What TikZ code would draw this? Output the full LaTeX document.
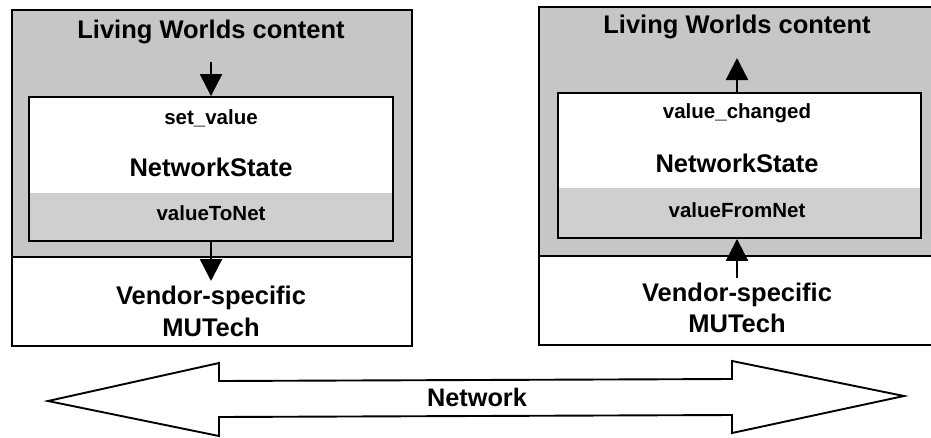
\documentclass[tikz,border=0pt]{standalone}
\usepackage{fontspec}
\setmainfont{Liberation Sans}
\usetikzlibrary{arrows.meta}
\definecolor{halftone}{HTML}{C6C6C6}
\definecolor{halftonelight}{HTML}{CFCFCF}
\tikzset{
  frame/.style={draw=black, line width=1.9pt},
  big/.style={font=\bfseries\fontsize{25.5}{27}\selectfont, inner sep=0pt},
  small/.style={font=\bfseries\fontsize{20.5}{22}\selectfont, inner sep=0pt},
  flow/.style={line width=2.4pt, -{Triangle[width=22pt,length=22pt]}},
  innerbox/.style={frame, rectangle, inner sep=0pt},
}
\begin{document}
\begin{tikzpicture}[x=1pt,y=-1pt]
\useasboundingbox (0,0) rectangle (931,437);
% ---------- left panel ----------
\fill[halftone] (12,10) rectangle (412,257);
\fill[white] (12,257) rectangle (412,346);
\draw[frame] (12,10) rectangle (412,346);
\draw[frame] (12,257) -- (412,257);
\fill[white] (29,97) rectangle (393,193);
\fill[halftonelight] (29,193) rectangle (393,241);
\node[innerbox, minimum width=364pt, minimum height=144pt] (linner) at (211,169) {};
\node[big] (ltitle) at (211,32) {Living Worlds content};
\node[small] (lset) at (211,118) {set\_value};
\node[big] (lns) at (211,167) {NetworkState};
\node[small] (lto) at (211,213) {valueToNet};
\node[big] (lvendor) at (211,298) {Vendor-specific};
\node[big] (lmu) at (211,327) {MUTech};
\coordinate (la) at (211,62);
\coordinate (lb) at (211,281);
\draw[flow] (la) -- (linner.north);
\draw[flow] (linner.south) -- (lb);
% ---------- right panel ----------
\fill[halftone] (539,7) rectangle (936,256);
\fill[white] (539,256) rectangle (936,345);
\draw[frame] (936,7) -- (539,7) -- (539,345) -- (936,345);
\draw[frame] (539,256) -- (936,256);
\fill[white] (558,93) rectangle (921,188);
\fill[halftonelight] (558,188) rectangle (921,238);
\node[innerbox, minimum width=363pt, minimum height=145pt] (rinner) at (739.5,165.5) {};
\node[big] (rtitle) at (737,27) {Living Worlds content};
\node[small] (rchg) at (737,113) {value\_changed};
\node[big] (rns) at (737,163) {NetworkState};
\node[small] (rfrom) at (737,210) {valueFromNet};
\node[big] (rvendor) at (737,295) {Vendor-specific};
\node[big] (rmu) at (737,323) {MUTech};
\coordinate (ra) at (737,58);
\coordinate (rb) at (737,278);
\draw[flow] (rinner.north -| ra) -- (ra);
\draw[flow] (rb) -- (rinner.south -| rb);
% ---------- network arrow ----------
\draw[line width=1.9pt, line join=miter, fill=white]
  (48,401) -- (219,363) -- (219,381) -- (732,379) -- (732,361) -- (904,396)
  -- (732,433) -- (732,415) -- (219,417) -- (219,436) -- cycle;
\node[big, font=\bfseries\fontsize{25.3}{27}\selectfont] (net) at (477,397) {Network};
\end{tikzpicture}
\end{document}
